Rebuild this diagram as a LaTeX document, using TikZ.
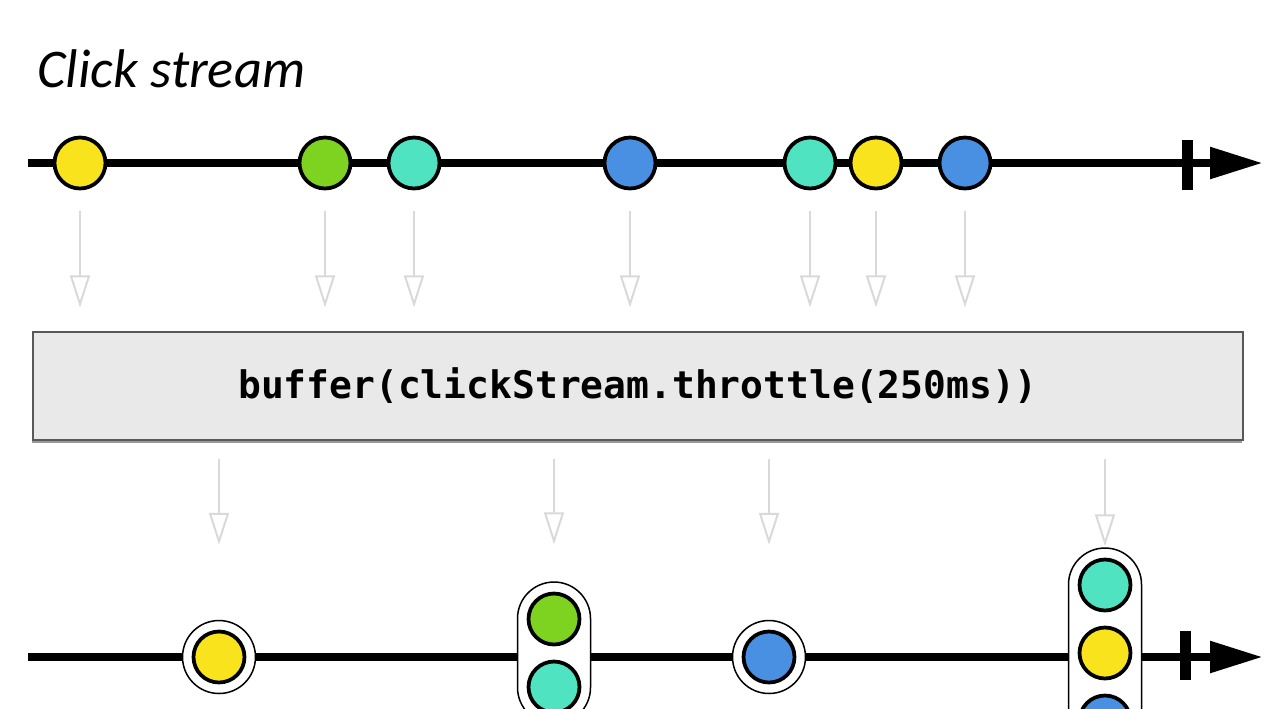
\documentclass[tikz,border=0pt]{standalone}
\usepackage{fontspec}
\usetikzlibrary{arrows.meta,shadows}
\newfontfamily\titlefont{Carlito}
\newfontfamily\codefont{DejaVu Sans Mono}
\definecolor{mYellow}{HTML}{F8E31D}
\definecolor{mGreen}{HTML}{7ED321}
\definecolor{mTeal}{HTML}{50E3C2}
\definecolor{mBlue}{HTML}{4A90E2}
\definecolor{feedgray}{HTML}{D9D9D9}
\definecolor{boxfill}{HTML}{E9E9E9}

\begin{document}
\begin{tikzpicture}[x=0.02cm,y=-0.02cm,
  marble/.style={circle,draw=black,line width=0.075cm,minimum size=1.02cm,inner sep=0pt},
  ring/.style={circle,draw=black,fill=white,line width=0.03cm,minimum size=1.46cm,inner sep=0pt},
  capsule/.style={rectangle,draw=black,fill=white,line width=0.03cm,minimum width=1.46cm,rounded corners=0.73cm,inner sep=0pt},
  axis/.style={line width=0.17cm,-{Triangle[length=1.06cm,width=0.6cm]}},
  tick/.style={line width=0.22cm},
  feed/.style={draw=feedgray,line width=0.04cm,-{Triangle[open,length=0.64cm,width=0.4cm]}}]
  \useasboundingbox (0,0) rectangle (1280,708);
  \clip (0,0) rectangle (1280,708);

  \node[anchor=base west,inner sep=0pt,font=\titlefont\itshape\fontsize{31}{31}\selectfont] (title) at (37,87) {Click stream};

  % click stream
  \coordinate (t0) at (28,163);
  \coordinate (t1) at (1263,163);
  \draw[axis] (t0) -- (t1);
  \draw[tick] (1187,140) -- (1187,190);
  \node[marble,fill=mYellow] (c1) at (80,163) {};
  \node[marble,fill=mGreen] (c2) at (325,163) {};
  \node[marble,fill=mTeal] (c3) at (414,163) {};
  \node[marble,fill=mBlue] (c4) at (630,163) {};
  \node[marble,fill=mTeal] (c5) at (810,163) {};
  \node[marble,fill=mYellow] (c6) at (876,163) {};
  \node[marble,fill=mBlue] (c7) at (965,163) {};

  \node[draw=gray!70!black,fill=boxfill,line width=0.025cm,minimum width=24.2cm,minimum height=2.16cm,
        drop shadow={shadow xshift=-0.02cm,shadow yshift=-0.06cm,fill=gray!80,opacity=1},
        font=\codefont\bfseries\fontsize{21.6}{24}\selectfont] (box) at (638,386) {buffer(clickStream.throttle(250ms))};

  \draw[feed,shorten <=0.42cm,shorten >=0.48cm] (c1) -- (c1 |- box.north);
  \draw[feed,shorten <=0.42cm,shorten >=0.48cm] (c2) -- (c2 |- box.north);
  \draw[feed,shorten <=0.42cm,shorten >=0.48cm] (c3) -- (c3 |- box.north);
  \draw[feed,shorten <=0.42cm,shorten >=0.48cm] (c4) -- (c4 |- box.north);
  \draw[feed,shorten <=0.42cm,shorten >=0.48cm] (c5) -- (c5 |- box.north);
  \draw[feed,shorten <=0.42cm,shorten >=0.48cm] (c6) -- (c6 |- box.north);
  \draw[feed,shorten <=0.42cm,shorten >=0.48cm] (c7) -- (c7 |- box.north);

  % buffered stream
  \coordinate (b0) at (28,657);
  \coordinate (b1) at (1263,657);
  \draw[axis] (b0) -- (b1);
  \draw[tick] (1185,631) -- (1185,680);
  \node[ring] (o1) at (219,657) {};
  \node[marble,fill=mYellow] (o1m) at (o1) {};
  \node[capsule,minimum height=2.84cm] (s2) at (554,653) {};
  \node[marble,fill=mGreen] (s2a) at (554,619) {};
  \node[marble,fill=mTeal] (s2b) at (554,687) {};
  \node[ring] (o3) at (769,657) {};
  \node[marble,fill=mBlue] (o3m) at (o3) {};
  \node[capsule,minimum height=4.2cm] (s4) at (1105,653) {};
  \node[marble,fill=mTeal] (s4a) at (1105,585) {};
  \node[marble,fill=mYellow] (s4b) at (1105,653) {};
  \node[marble,fill=mBlue] (s4c) at (1105,721) {};

  \draw[feed,shorten <=0.36cm,shorten >=1.5cm] (box.south -| o1) -- (o1);
  \draw[feed,shorten <=0.36cm,shorten >=0.74cm] (box.south -| s2) -- (s2);
  \draw[feed,shorten <=0.36cm,shorten >=1.5cm] (box.south -| o3) -- (o3);
  \draw[feed,shorten <=0.36cm,shorten >=0.02cm] (box.south -| s4) -- (s4);
\end{tikzpicture}
\end{document}
